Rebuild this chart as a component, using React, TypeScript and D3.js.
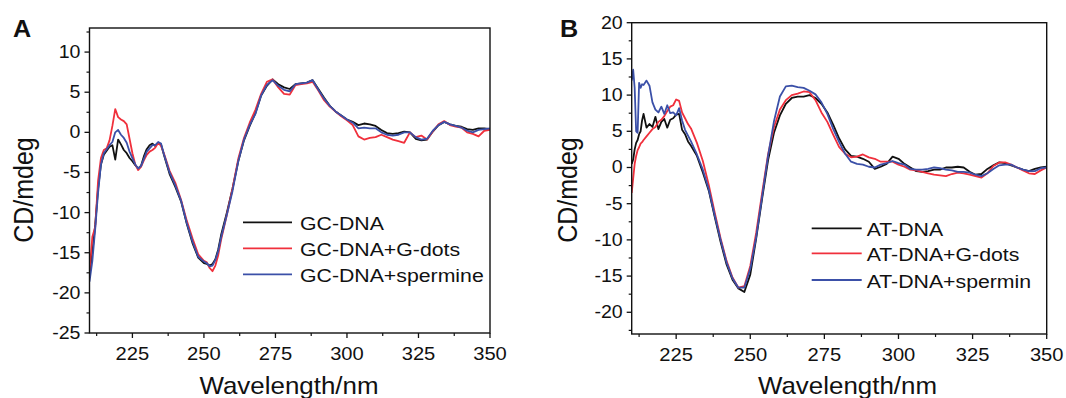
import React from "react";
import * as d3 from "d3";

// ---------- Data ----------
const wlA = [
  210, 211, 212, 213, 214, 215, 216, 217, 218, 219, 220, 221, 222, 223, 224, 225, 226, 227, 228, 229,
  230, 231, 232, 233, 234, 235, 236, 238, 240, 242, 244, 246, 248, 250, 251, 252, 253, 254, 255, 256,
  258, 260, 262, 264, 266, 268, 270, 272, 274, 276, 278, 280, 282, 284, 286, 288, 290, 292, 294, 296,
  298, 300, 302, 304, 306, 308, 310, 312, 314, 316, 318, 320, 322, 324, 326, 328, 330, 332, 334, 336,
  338, 340, 342, 344, 346, 348, 350,
];
const gcDna = [
  -17.8, -15.0, -11.5, -7.0, -4.0, -2.8, -2.3, -1.8, -1.6, -3.4, -0.9, -1.5, -2.2, -2.6, -3.2, -3.6, -4.1, -4.5, -4.2, -3.0,
  -2.1, -1.6, -1.4, -1.7, -1.3, -1.5, -2.8, -5.2, -6.8, -8.6, -11.4, -13.8, -15.6, -16.3, -16.4, -16.6, -16.4, -15.8, -14.6, -12.8,
  -10.0, -7.0, -3.6, -1.0, 0.8, 2.4, 4.6, 5.8, 6.6, 6.0, 5.6, 5.4, 6.0, 6.1, 6.2, 6.5, 5.4, 4.3, 3.3, 2.6,
  2.1, 1.6, 1.3, 0.9, 1.1, 1.0, 0.8, 0.3, -0.1, -0.2, -0.1, 0.1, 0.0, -0.8, -1.0, -0.9, 0.1, 0.9, 1.3, 1.0,
  0.8, 0.7, 0.4, 0.3, 0.5, 0.5, 0.4,
];
const gcGdots = [
  -17.4, -13.0, -11.8, -6.0, -3.2, -2.2, -2.0, -1.0, 0.8, 2.9, 1.9, 1.6, 1.4, 1.0, -0.8, -2.6, -4.0, -4.7, -4.3, -3.5,
  -2.8, -2.4, -2.2, -1.9, -1.3, -1.7, -2.6, -4.8, -6.3, -8.4, -11.0, -13.2, -15.2, -16.0, -16.2, -16.9, -17.3, -16.6, -15.3, -13.4,
  -10.3, -7.0, -3.3, -0.7, 1.2, 2.8, 4.8, 6.3, 6.6, 5.6, 4.8, 4.7, 5.9, 6.0, 6.1, 6.3, 5.2, 4.0, 3.2, 2.6,
  2.0, 1.5, 0.9, -0.5, -0.9, -0.7, -0.6, -0.3, -0.6, -0.9, -1.1, -1.3, 0.0, -0.6, -0.4, -0.9, 0.1, 1.0, 1.4, 0.9,
  0.7, 0.6, 0.0, -0.2, -0.5, 0.2, 0.3,
];
const gcSpermine = [
  -18.6, -16.0, -12.0, -7.5, -4.0, -2.6, -2.1, -1.6, -1.2, 0.0, 0.3, -0.3, -0.7, -1.3, -2.4, -3.2, -4.0, -4.5, -4.2, -3.3,
  -2.4, -2.0, -1.6, -1.6, -1.2, -1.4, -2.7, -5.0, -6.6, -8.5, -11.3, -13.6, -15.5, -16.1, -16.3, -16.7, -16.6, -15.9, -14.8, -13.1,
  -10.3, -7.3, -3.6, -0.9, 0.9, 2.3, 4.6, 5.9, 6.5, 5.8, 5.3, 5.1, 6.0, 6.1, 6.2, 6.5, 5.3, 4.2, 3.3, 2.6,
  2.1, 1.6, 1.2, 0.5, 0.6, 0.5, 0.5, 0.0, -0.3, -0.4, -0.3, 0.0, 0.0, -0.6, -0.9, -0.8, 0.2, 0.9, 1.3, 1.0,
  0.8, 0.6, 0.2, 0.0, 0.3, 0.4, 0.5,
];

const wlB = [
  210, 210.5, 211, 211.5, 212, 212.5, 213, 213.5, 214, 215, 216, 217, 218, 219, 220, 221, 222, 223, 224, 225,
  226, 227, 228, 229, 230, 232, 234, 236, 238, 240, 242, 244, 246, 248, 250, 252, 254, 256, 258, 260,
  262, 264, 266, 268, 270, 272, 274, 276, 278, 280, 282, 284, 286, 288, 290, 292, 294, 296, 298, 300,
  302, 304, 306, 308, 310, 312, 314, 316, 318, 320, 322, 324, 326, 328, 330, 332, 334, 336, 338, 340,
  342, 344, 346, 348, 350,
];
const atDna = [
  0.5, 1.1, 2.5, 3.4, 3.8, 4.6, 5.0, 6.5, 7.4, 5.5, 6.0, 5.6, 7.0, 5.3, 6.3, 6.7, 5.5, 6.6, 6.8, 7.3,
  7.4, 5.2, 4.6, 3.6, 3.0, 1.6, -0.7, -3.2, -6.8, -10.3, -13.4, -15.5, -16.7, -17.2, -14.8, -9.8, -4.3, 1.0, 4.8, 7.2,
  8.8, 9.6, 9.8, 9.8, 10.0, 9.6, 8.8, 7.6, 5.9, 4.0, 2.5, 1.6, 1.5, 1.2, 0.8, -0.2, 0.1, 0.5, 1.5, 1.2,
  0.5, 0.0, -0.5, -0.6, -0.5, -0.3, -0.3, 0.0, 0.0, 0.1, 0.0, -0.6, -1.0, -0.9, -0.2, 0.3, 0.7, 0.6, 0.3, 0.0,
  -0.3, -0.5, -0.2, 0.0, 0.1,
];
const atGdots = [
  -3.5, -1.5, 0.5, 1.6, 2.4, 2.8, 3.3, 3.5, 3.8, 4.3, 4.8, 5.3, 5.6, 6.3, 6.6, 7.1, 7.8, 8.4, 8.6, 9.4,
  9.2, 7.6, 6.8, 6.0, 5.4, 3.4, 0.9, -2.4, -6.2, -9.8, -12.9, -15.2, -16.6, -16.4, -13.6, -9.0, -3.5, 1.8, 5.6, 8.0,
  9.3, 10.0, 10.2, 10.5, 10.4, 9.3, 7.6, 6.3, 4.5, 2.8, 1.9, 1.4, 1.5, 1.8, 1.4, 1.2, 0.8, 0.8, 0.8, 0.4,
  0.1, -0.3, -0.4, -0.6, -0.8, -1.0, -1.1, -1.2, -0.9, -0.7, -0.8, -1.0, -1.2, -1.4, -0.8, 0.2, 0.7, 0.7, 0.4, 0.0,
  -0.4, -0.8, -0.9, -0.4, 0.0,
];
const atSpermin = [
  12.0, 13.5, 11.0, 5.0, 4.8, 11.7, 11.0, 11.5, 11.4, 12.0, 11.3, 9.0, 8.0, 7.6, 8.4, 7.4, 8.6, 7.5, 7.6, 7.2,
  8.2, 6.5, 5.2, 4.4, 3.6, 1.8, -0.3, -3.0, -6.6, -10.0, -13.1, -15.3, -16.6, -16.6, -14.0, -9.6, -4.0, 1.6, 6.4, 9.8,
  11.2, 11.3, 11.1, 11.0, 10.6, 10.1, 9.0, 7.4, 5.3, 3.5, 1.9, 0.8, 0.5, 0.4, 0.1, 0.0, 0.4, 0.6, 0.9, 0.6,
  0.4, -0.2, -0.3, -0.3, -0.2, 0.0, -0.1, -0.3, -0.4, -0.6, -0.6, -0.7, -1.0, -1.2, -0.8, -0.2, 0.3, 0.4, 0.4, 0.0,
  -0.3, -0.5, -0.5, -0.1, 0.0,
];

const xMajor = [225, 250, 275, 300, 325, 350];
const xMinor = [212.5, 237.5, 262.5, 287.5, 312.5, 337.5];
const yMajorA = [-25, -20, -15, -10, -5, 0, 5, 10];
const yMinorA = [-22.5, -17.5, -12.5, -7.5, -2.5, 2.5, 7.5, 12.5];
const yMajorB = [-20, -15, -10, -5, 0, 5, 10, 15, 20];
const yMinorB = [-22.5, -17.5, -12.5, -7.5, -2.5, 2.5, 7.5, 12.5, 17.5];
const legendA = ["GC-DNA", "GC-DNA+G-dots", "GC-DNA+spermine"];
const legendB = ["AT-DNA", "AT-DNA+G-dots", "AT-DNA+spermin"];
const colors = ["#111111", "#f0303c", "#3b50a8"];

const FONT = "'Liberation Sans', Arial, Helvetica, sans-serif";
const SX = 1.12;

function T({ x, y, size, anchor = "start", weight = "normal", rot = false, sx = SX, children }: any) {
  const tr = rot
    ? `translate(${x},${y}) rotate(-90) scale(1,${sx})`
    : `translate(${x},${y}) scale(${sx},1)`;
  return (
    <g transform={tr}>
      <text x={0} y={0} fontSize={size} textAnchor={anchor} fontWeight={weight} fontFamily={FONT} fill="#111">
        {children}
      </text>
    </g>
  );
}

function Panel({ box, yDomain, yMajor, yMinor, wl, series, legend, leg, letter, yTitleX, xTitleX }: any) {
  const x = d3.scaleLinear().domain([210, 350]).range([box.l, box.r]);
  const y = d3.scaleLinear().domain(yDomain).range([box.b, box.t]);
  const line = d3
    .line<number>()
    .x((_, i) => x(wl[i]))
    .y((d) => y(d));
  return (
    <g>
      <defs>
        <clipPath id={`clip-${letter}`}>
          <rect x={box.l} y={box.t} width={box.r - box.l} height={box.b - box.t} />
        </clipPath>
      </defs>
      <g clipPath={`url(#clip-${letter})`}>
        {series.map((s: number[], i: number) => (
          <path key={i} d={line(s) || ""} fill="none" stroke={colors[i]} strokeWidth={1.8} strokeLinejoin="round" />
        ))}
      </g>
      <rect x={box.l} y={box.t} width={box.r - box.l} height={box.b - box.t} fill="none" stroke="#111" strokeWidth={1.4} />
      {yMajor.map((v: number) => (
        <g key={"ym" + v}>
          <line x1={box.l - 5} x2={box.l} y1={y(v)} y2={y(v)} stroke="#111" strokeWidth={1.3} />
          <T x={box.l - 9} y={y(v) + 6} size={17.5} anchor="end">{String(v)}</T>
        </g>
      ))}
      {yMinor.map((v: number) => (
        <line key={"yn" + v} x1={box.l - 3} x2={box.l} y1={y(v)} y2={y(v)} stroke="#111" strokeWidth={1.2} />
      ))}
      {xMajor.map((v: number) => (
        <g key={"xm" + v}>
          <line x1={x(v)} x2={x(v)} y1={box.b} y2={box.b + 5} stroke="#111" strokeWidth={1.3} />
          <T x={x(v)} y={box.b + 27} size={18} anchor="middle">{String(v)}</T>
        </g>
      ))}
      {xMinor.map((v: number) => (
        <line key={"xn" + v} x1={x(v)} x2={x(v)} y1={box.b} y2={box.b + 3} stroke="#111" strokeWidth={1.2} />
      ))}
      {legend.map((name: string, i: number) => (
        <g key={name}>
          <line x1={leg.x1} x2={leg.x2} y1={leg.y[i]} y2={leg.y[i]} stroke={colors[i]} strokeWidth={1.8} />
          <T x={leg.tx} y={leg.y[i] + 7.5} size={19}>{name}</T>
        </g>
      ))}
      <T x={yTitleX} y={190} size={25} anchor="middle" rot sx={1.08}>CD/mdeg</T>
      <T x={xTitleX} y={394} size={24} anchor="middle" sx={1.08}>Wavelength/nm</T>
      <T x={letter === "A" ? 13 : 560} y={37} size={24} weight="bold" sx={1.05}>{letter}</T>
    </g>
  );
}

export default function App() {
  return (
    <svg width={1066} height={398} style={{ position: "absolute", left: 0, top: 0, background: "#fff" }}>
      <rect x={0} y={0} width={1066} height={398} fill="#fff" />
      <Panel
        box={{ l: 89.5, r: 490, t: 28, b: 333 }}
        yDomain={[-25, 13]}
        yMajor={yMajorA}
        yMinor={yMinorA}
        wl={wlA}
        series={[gcDna, gcGdots, gcSpermine]}
        legend={legendA}
        leg={{ x1: 243, x2: 292, tx: 300, y: [222.3, 248.3, 274.3] }}
        letter="A"
        yTitleX={33}
        xTitleX={289}
      />
      <Panel
        box={{ l: 631.7, r: 1046.7, t: 22.7, b: 334 }}
        yDomain={[-23, 20]}
        yMajor={yMajorB}
        yMinor={yMinorB}
        wl={wlB}
        series={[atDna, atGdots, atSpermin]}
        legend={legendB}
        leg={{ x1: 811.7, x2: 861.7, tx: 866.7, y: [228.3, 253.3, 280] }}
        letter="B"
        yTitleX={577}
        xTitleX={847.5}
      />
    </svg>
  );
}
